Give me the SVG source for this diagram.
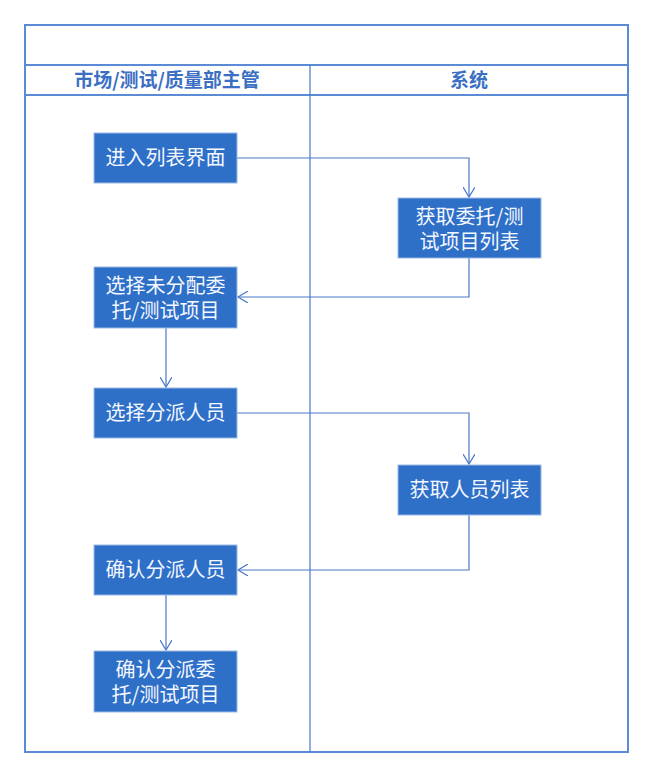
<svg xmlns="http://www.w3.org/2000/svg" width="653" height="778" viewBox="0 0 653 778">
<style>
.frame{fill:none;stroke:#5B8BD6;stroke-width:2}
.lane{fill:none;stroke:#4A78C8;stroke-width:1.2}
.box{fill:#2E6FC8;stroke:#9DB9E6;stroke-width:1}
.t{font-family:"Noto Sans CJK SC","Noto Sans",sans-serif;font-size:20px;fill:#F4F8FF;text-anchor:middle}
.h{font-family:"Noto Sans CJK SC","Noto Sans",sans-serif;font-size:19px;font-weight:bold;fill:#3A6FC4;text-anchor:middle}
.c{fill:none;stroke:#4A78C8;stroke-width:1.2}
</style>
<defs>
<marker id="arr" markerWidth="12" markerHeight="12" refX="10" refY="6" orient="auto" markerUnits="userSpaceOnUse">
<path d="M0,0 L10,6 L0,12" fill="none" stroke="#4A78C8" stroke-width="1.2"/>
</marker>
</defs>
<rect width="653" height="778" fill="#FFFFFF"/>
<g id="pool">
<rect class="frame" x="25" y="25" width="603" height="727"/>
<line class="frame" x1="25" y1="65" x2="628" y2="65"/>
<line class="frame" x1="25" y1="95" x2="628" y2="95"/>
<line class="lane" x1="310" y1="65" x2="310" y2="752"/>
<text class="h" x="167" y="87">市场/测试/质量部主管</text>
<text class="h" x="469" y="87">系统</text>
</g>
<g id="connectors">
<path class="c" d="M237,158 H469 V197" marker-end="url(#arr)"/>
<path class="c" d="M469,258 V297 H238" marker-end="url(#arr)"/>
<path class="c" d="M166,328 V387" marker-end="url(#arr)"/>
<path class="c" d="M237,413 H469 V464" marker-end="url(#arr)"/>
<path class="c" d="M469,515 V570 H238" marker-end="url(#arr)"/>
<path class="c" d="M166,595 V650" marker-end="url(#arr)"/>
</g>
<g id="n1"><rect class="box" x="94" y="133" width="143" height="50"/><text class="t" x="165.5" y="165">进入列表界面</text></g>
<g id="n2"><rect class="box" x="398" y="198" width="143" height="60"/><text class="t" x="469.5" y="224">获取委托/测<tspan x="469.5" dy="25">试项目列表</tspan></text></g>
<g id="n3"><rect class="box" x="94" y="267" width="143" height="61"/><text class="t" x="165.5" y="293">选择未分配委<tspan x="165.5" dy="25">托/测试项目</tspan></text></g>
<g id="n4"><rect class="box" x="94" y="388" width="143" height="50"/><text class="t" x="165.5" y="420">选择分派人员</text></g>
<g id="n5"><rect class="box" x="398" y="465" width="143" height="50"/><text class="t" x="469.5" y="497">获取人员列表</text></g>
<g id="n6"><rect class="box" x="94" y="545" width="143" height="50"/><text class="t" x="165.5" y="577">确认分派人员</text></g>
<g id="n7"><rect class="box" x="94" y="651" width="143" height="61"/><text class="t" x="165.5" y="677">确认分派委<tspan x="165.5" dy="25">托/测试项目</tspan></text></g>
</svg>
